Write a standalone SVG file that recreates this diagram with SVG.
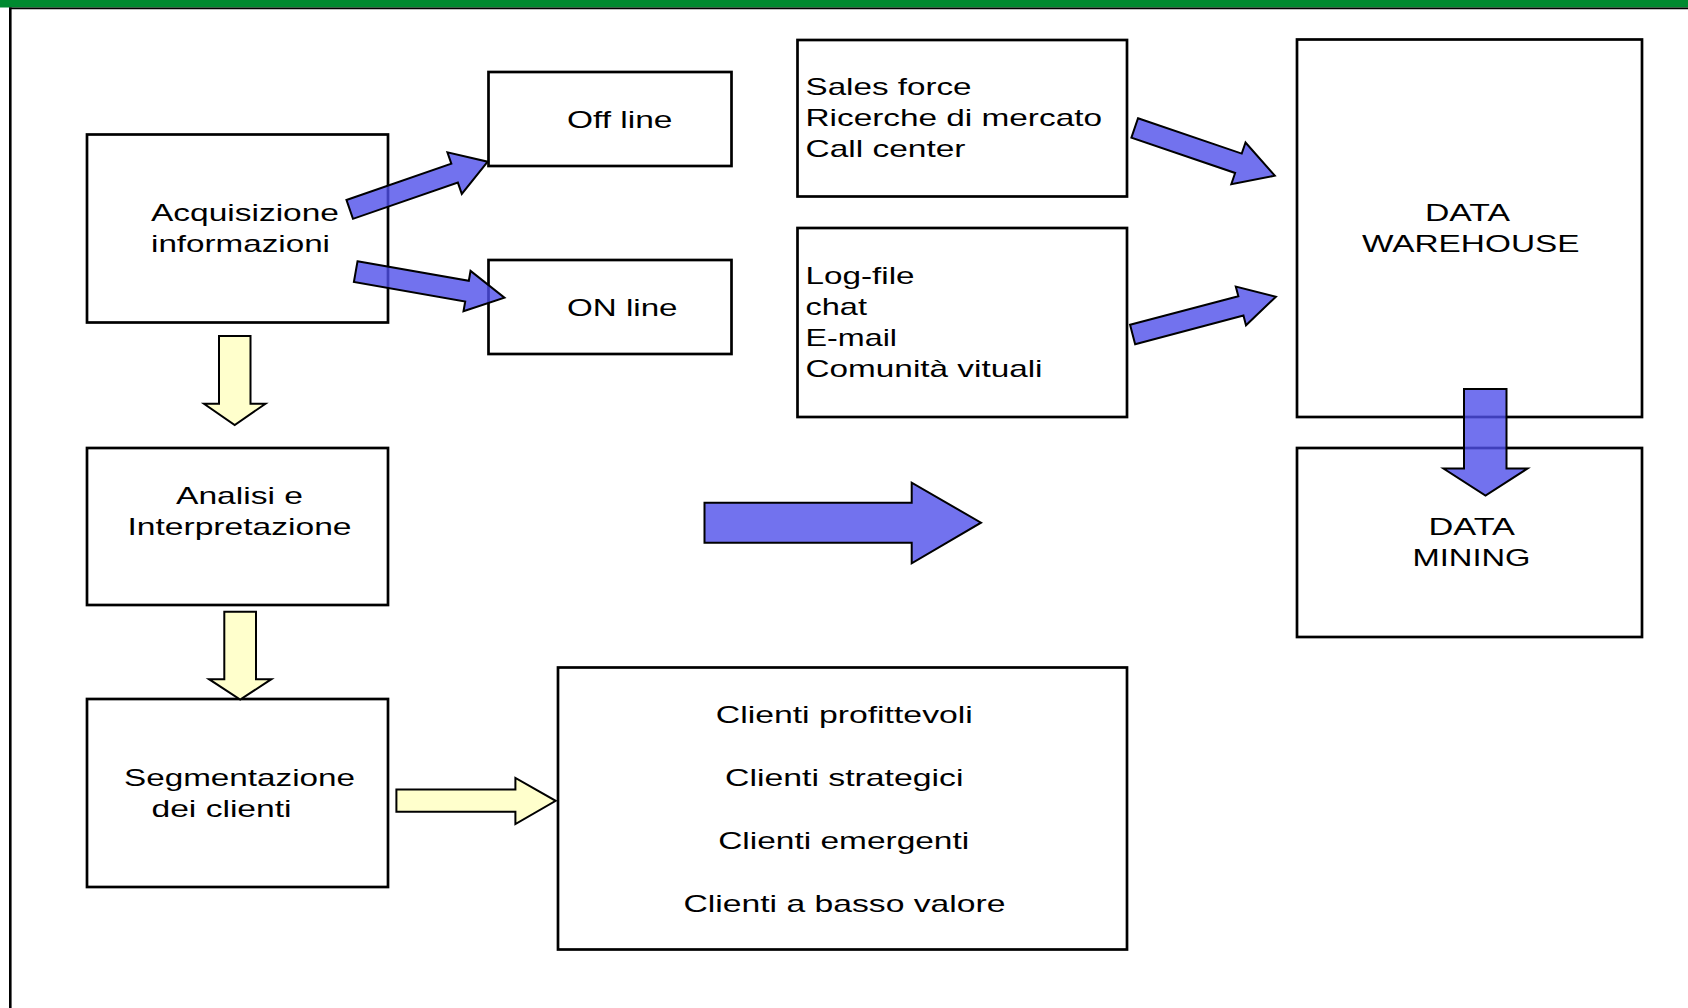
<svg xmlns="http://www.w3.org/2000/svg" width="1688" height="1008" viewBox="0 0 1688 1008">
<style>
.box{fill:#fff;stroke:#000;stroke-width:2.7}
.t{font-family:"Liberation Sans",Arial,sans-serif;font-size:24px;fill:#000}
.blue{fill:rgb(79,79,234);fill-opacity:0.8;stroke:#000;stroke-width:2;stroke-linejoin:miter}
.yel{fill:#ffffcc;stroke:#000;stroke-width:2;stroke-linejoin:miter}
</style>
<rect width="1688" height="1008" fill="#fff"/>
<g id="frame">
<rect x="0" y="0" width="1688" height="7.5" fill="#008a30"/>
<line x1="9" y1="8.3" x2="1688" y2="8.3" stroke="#000" stroke-width="1.8"/>
<line x1="10.3" y1="7.5" x2="10.3" y2="1008" stroke="#000" stroke-width="2.6"/>
</g>
<g id="acquisizione"><rect class="box" x="87" y="134.5" width="301" height="188"/>
<text class="t" x="151" y="221" textLength="188" lengthAdjust="spacingAndGlyphs">Acquisizione</text>
<text class="t" x="151" y="252" textLength="179" lengthAdjust="spacingAndGlyphs">informazioni</text></g>
<g id="offline"><rect class="box" x="488.5" y="72" width="243" height="94"/>
<text class="t" x="567" y="127.5" textLength="105.5" lengthAdjust="spacingAndGlyphs">Off line</text></g>
<g id="online"><rect class="box" x="488.5" y="260" width="243" height="94"/>
<text class="t" x="567" y="315.7" textLength="110.5" lengthAdjust="spacingAndGlyphs">ON line</text></g>
<g id="sources1"><rect class="box" x="797.5" y="40" width="329.5" height="156.5"/>
<text class="t" x="805.5" y="94.5" textLength="166" lengthAdjust="spacingAndGlyphs">Sales force</text>
<text class="t" x="805.5" y="125.7" textLength="296.5" lengthAdjust="spacingAndGlyphs">Ricerche di mercato</text>
<text class="t" x="805.5" y="156.9" textLength="160" lengthAdjust="spacingAndGlyphs">Call center</text></g>
<g id="sources2"><rect class="box" x="797.5" y="228" width="329.5" height="189"/>
<text class="t" x="805.5" y="283.5" textLength="109" lengthAdjust="spacingAndGlyphs">Log-file</text>
<text class="t" x="805.5" y="315" textLength="61.5" lengthAdjust="spacingAndGlyphs">chat</text>
<text class="t" x="805.5" y="346" textLength="91.5" lengthAdjust="spacingAndGlyphs">E-mail</text>
<text class="t" x="805.5" y="377" textLength="237" lengthAdjust="spacingAndGlyphs">Comunità vituali</text></g>
<g id="datawarehouse"><rect class="box" x="1297" y="39.5" width="345" height="377.5"/>
<text class="t" x="1425" y="221" textLength="85" lengthAdjust="spacingAndGlyphs">DATA</text>
<text class="t" x="1362" y="252" textLength="217.5" lengthAdjust="spacingAndGlyphs">WAREHOUSE</text></g>
<g id="datamining"><rect class="box" x="1297" y="448" width="345" height="189"/>
<text class="t" x="1428.5" y="535" textLength="86.5" lengthAdjust="spacingAndGlyphs">DATA</text>
<text class="t" x="1412.5" y="566" textLength="118" lengthAdjust="spacingAndGlyphs">MINING</text></g>
<g id="analisi"><rect class="box" x="87" y="448" width="301" height="157"/>
<text class="t" x="176" y="504" textLength="127" lengthAdjust="spacingAndGlyphs">Analisi e</text>
<text class="t" x="127.5" y="535" textLength="224" lengthAdjust="spacingAndGlyphs">Interpretazione</text></g>
<g id="segmentazione"><rect class="box" x="87" y="699" width="301" height="188"/>
<text class="t" x="124" y="786" textLength="231" lengthAdjust="spacingAndGlyphs">Segmentazione</text>
<text class="t" x="151.5" y="817" textLength="140" lengthAdjust="spacingAndGlyphs">dei clienti</text></g>
<g id="clienti"><rect class="box" x="558" y="667.5" width="569" height="282"/>
<text class="t" x="715.8" y="723.2" textLength="257" lengthAdjust="spacingAndGlyphs">Clienti profittevoli</text>
<text class="t" x="725" y="785.8" textLength="238.5" lengthAdjust="spacingAndGlyphs">Clienti strategici</text>
<text class="t" x="718.2" y="849" textLength="251" lengthAdjust="spacingAndGlyphs">Clienti emergenti</text>
<text class="t" x="683.5" y="911.5" textLength="322" lengthAdjust="spacingAndGlyphs">Clienti a basso valore</text></g>
<g id="connectors">
<path class="blue" transform="translate(349.7,209.4) rotate(-19.07)" d="M0,-10 L111,-10 L111,-22 L146,0 L111,22 L111,10 L0,10 Z"/>
<path class="blue" transform="translate(355.7,271.7) rotate(9.9)" d="M0,-10.5 L113,-10.5 L113,-20.5 L151,0 L113,20.5 L113,10.5 L0,10.5 Z"/>
<path class="blue" transform="translate(1134.7,127.9) rotate(18.84)" d="M0,-10.25 L109.6,-10.25 L109.6,-22 L148,0 L109.6,22 L109.6,10.25 L0,10.25 Z"/>
<path class="blue" transform="translate(1132.6,334.5) rotate(-14.78)" d="M0,-10 L112,-10 L112,-20 L148.2,0 L112,20 L112,10 L0,10 Z"/>
<polygon class="blue" points="1464,389 1506.5,389 1506.5,468.5 1527.5,468.5 1485.5,495.5 1443.5,468.5 1464,468.5"/>
<polygon class="blue" points="704.5,502.7 911.7,502.7 911.7,482.7 981,522.7 911.7,563.3 911.7,542.7 704.5,542.7"/>
<polygon class="yel" points="219,336 250.5,336 250.5,403.7 265.5,403.7 234.7,425 204,403.7 219,403.7"/>
<polygon class="yel" points="224.3,611.8 256,611.8 256,679.2 271.4,679.2 240.2,699.6 209,679.2 224.3,679.2"/>
<polygon class="yel" points="396.4,789.4 515.4,789.4 515.4,778 555.7,800.8 515.4,824 515.4,811.8 396.4,811.8"/>
</g>
</svg>
